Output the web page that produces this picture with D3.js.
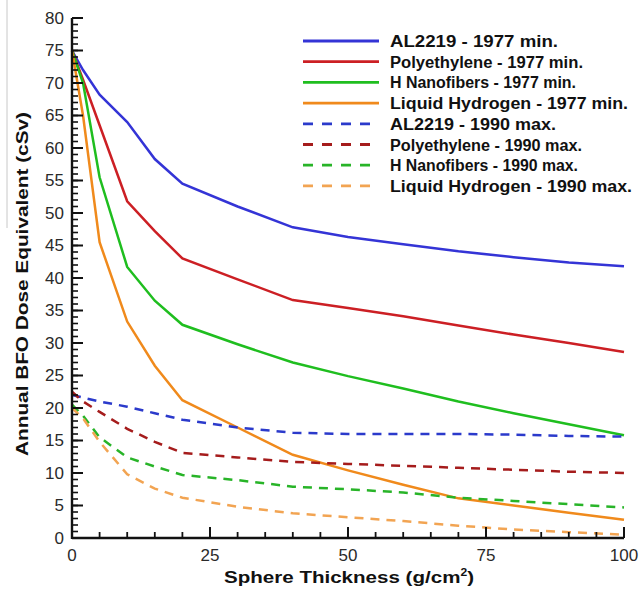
<!DOCTYPE html>
<html><head><meta charset="utf-8">
<script src="https://cdn.jsdelivr.net/npm/d3@7"></script>
<style>body{margin:0;background:#fff;}svg{display:block;}</style>
</head><body>
<svg id="c" width="639" height="590"></svg>
<script>
const thickness = [0, 2, 5, 10, 15, 20, 30, 40, 50, 60, 70, 80, 90, 100];
const al1977  = [75, 72, 68.2, 64, 58.3, 54.5, 51, 47.8, 46.3, 45.2, 44.1, 43.2, 42.4, 41.8];
const pe1977  = [75, 70.5, 63.5, 51.8, 47.2, 43, 39.8, 36.6, 35.4, 34.1, 32.7, 31.3, 30, 28.6];
const hn1977  = [75, 70, 55.5, 41.7, 36.5, 32.8, 29.8, 27, 24.9, 23, 21, 19.2, 17.5, 15.8];
const lh1977  = [75, 65, 45.5, 33.3, 26.5, 21.2, 17, 12.8, 10.4, 8.2, 6.1, 5, 3.9, 2.8];
const al1990  = [22, 21.6, 21, 20.2, 19.2, 18.2, 17, 16.2, 16, 16, 16, 15.9, 15.7, 15.6];
const pe1990  = [22.5, 21, 19.4, 16.8, 14.8, 13.1, 12.4, 11.7, 11.4, 11.1, 10.8, 10.5, 10.2, 10];
const hn1990  = [20.5, 18.8, 15.5, 12.4, 11, 9.7, 8.9, 7.9, 7.5, 7, 6.2, 5.7, 5.2, 4.7];
const lh1990  = [20, 18.4, 14.8, 9.8, 7.6, 6.2, 4.8, 3.8, 3.2, 2.6, 1.9, 1.3, 0.9, 0.5];
const seriesNames = ["AL2219 - 1977 min.", "Polyethylene - 1977 min.", "H Nanofibers - 1977 min.", "Liquid Hydrogen - 1977 min.",
                     "AL2219 - 1990 max.", "Polyethylene - 1990 max.", "H Nanofibers - 1990 max.", "Liquid Hydrogen - 1990 max."];
const seriesValues = [al1977, pe1977, hn1977, lh1977, al1990, pe1990, hn1990, lh1990];
const seriesColors = ["#3434d6", "#cc1f24", "#1fbe1f", "#f08a1c", "#2b3acb", "#a51c1c", "#28b428", "#f2a452"];
const seriesDashed = [false, false, false, false, true, true, true, true];
const xTicks = [0, 25, 50, 75, 100];
const xMinorTicks = d3.range(0, 101, 5);
const yTicks = d3.range(0, 81, 5);
const yMinorTicks = d3.range(0, 81, 1);

const svg = d3.select("#c");
const x = d3.scaleLinear().domain([0, 100]).range([72, 624]);
const y = d3.scaleLinear().domain([0, 80]).range([538, 18]);

// faint scan artifact line
svg.append("line").attr("x1", 7).attr("x2", 7).attr("y1", 0).attr("y2", 228)
  .attr("stroke", "#c8c8c8").attr("stroke-width", 1);

// lines
const line = d3.line().x(d => x(d[0])).y(d => y(d[1]));
seriesValues.forEach((vals, i) => {
  svg.append("path")
    .datum(thickness.map((t, j) => [t, vals[j]]))
    .attr("d", line)
    .attr("fill", "none")
    .attr("stroke", seriesColors[i])
    .attr("stroke-width", 2.5)
    .attr("stroke-dasharray", seriesDashed[i] ? "9,7" : null);
});

// axes (ticks drawn from the scales, pointing inward)
const axisFont = "'Liberation Sans', Arial, sans-serif";
const ax = svg.append("g").attr("stroke", "#111");
ax.selectAll("line.xmin").data(xMinorTicks).join("line").attr("class", "xmin")
  .attr("x1", d => x(d)).attr("x2", d => x(d)).attr("y1", y(0)).attr("y2", y(0) - 6).attr("stroke-width", 1.8);
ax.selectAll("line.xmaj").data(xTicks).join("line").attr("class", "xmaj")
  .attr("x1", d => x(d)).attr("x2", d => x(d)).attr("y1", y(0)).attr("y2", y(0) - 11).attr("stroke-width", 2);
ax.selectAll("line.ymin").data(yMinorTicks).join("line").attr("class", "ymin")
  .attr("y1", d => y(d)).attr("y2", d => y(d)).attr("x1", x(0)).attr("x2", x(0) + 6).attr("stroke-width", 1.6);
ax.selectAll("line.ymaj").data(yTicks).join("line").attr("class", "ymaj")
  .attr("y1", d => y(d)).attr("y2", d => y(d)).attr("x1", x(0)).attr("x2", x(0) + 11).attr("stroke-width", 2);
ax.append("line").attr("x1", x(0)).attr("x2", x(100)).attr("y1", y(0)).attr("y2", y(0)).attr("stroke-width", 2.4);
ax.append("line").attr("x1", x(0)).attr("x2", x(0)).attr("y1", y(0) + 1).attr("y2", y(80)).attr("stroke-width", 2.4);

svg.selectAll("text.xl").data(xTicks).join("text").attr("class", "xl")
  .attr("x", d => x(d)).attr("y", y(0) + 23).attr("text-anchor", "middle")
  .attr("font-size", 17).attr("font-family", axisFont).attr("fill", "#2a2a2a").text(d => d);
svg.selectAll("text.yl").data(yTicks).join("text").attr("class", "yl")
  .attr("x", x(0) - 8).attr("y", d => y(d)).attr("dy", "0.35em").attr("text-anchor", "end")
  .attr("font-size", 17).attr("font-family", axisFont).attr("fill", "#2a2a2a").text(d => d);

// axis titles
const xt = svg.append("text").attr("x", 349).attr("y", 583).attr("text-anchor", "middle")
  .attr("font-family", axisFont).attr("font-weight", "bold").attr("font-size", 17).attr("fill", "#111")
  .attr("textLength", 250).attr("lengthAdjust", "spacingAndGlyphs");
xt.append("tspan").text("Sphere Thickness (g/cm");
xt.append("tspan").attr("dy", -7).attr("font-size", 10).text("2");
xt.append("tspan").attr("dy", 7).text(")");

svg.append("text").attr("transform", "translate(28,284) rotate(-90)").attr("text-anchor", "middle")
  .attr("font-family", axisFont).attr("font-weight", "bold").attr("font-size", 16).attr("fill", "#111")
  .attr("textLength", 344).attr("lengthAdjust", "spacingAndGlyphs")
  .text("Annual BFO Dose Equivalent (cSv)");

// legend
const legendWidths = [168, 193, 186, 238, 166, 192, 188, 242];
const lg = svg.append("g");
seriesNames.forEach((name, i) => {
  const ly = 41 + i * 20.7;
  lg.append("line").attr("x1", 303).attr("x2", 379).attr("y1", ly).attr("y2", ly)
    .attr("stroke", seriesColors[i]).attr("stroke-width", 2.8)
    .attr("stroke-dasharray", seriesDashed[i] ? "10,9" : null);
  lg.append("text").attr("x", 390).attr("y", ly + 6).attr("font-family", axisFont)
    .attr("font-weight", "bold").attr("font-size", 16).attr("fill", "#111")
    .attr("textLength", legendWidths[i]).attr("lengthAdjust", "spacingAndGlyphs")
    .text(name);
});
</script>
</body></html>
